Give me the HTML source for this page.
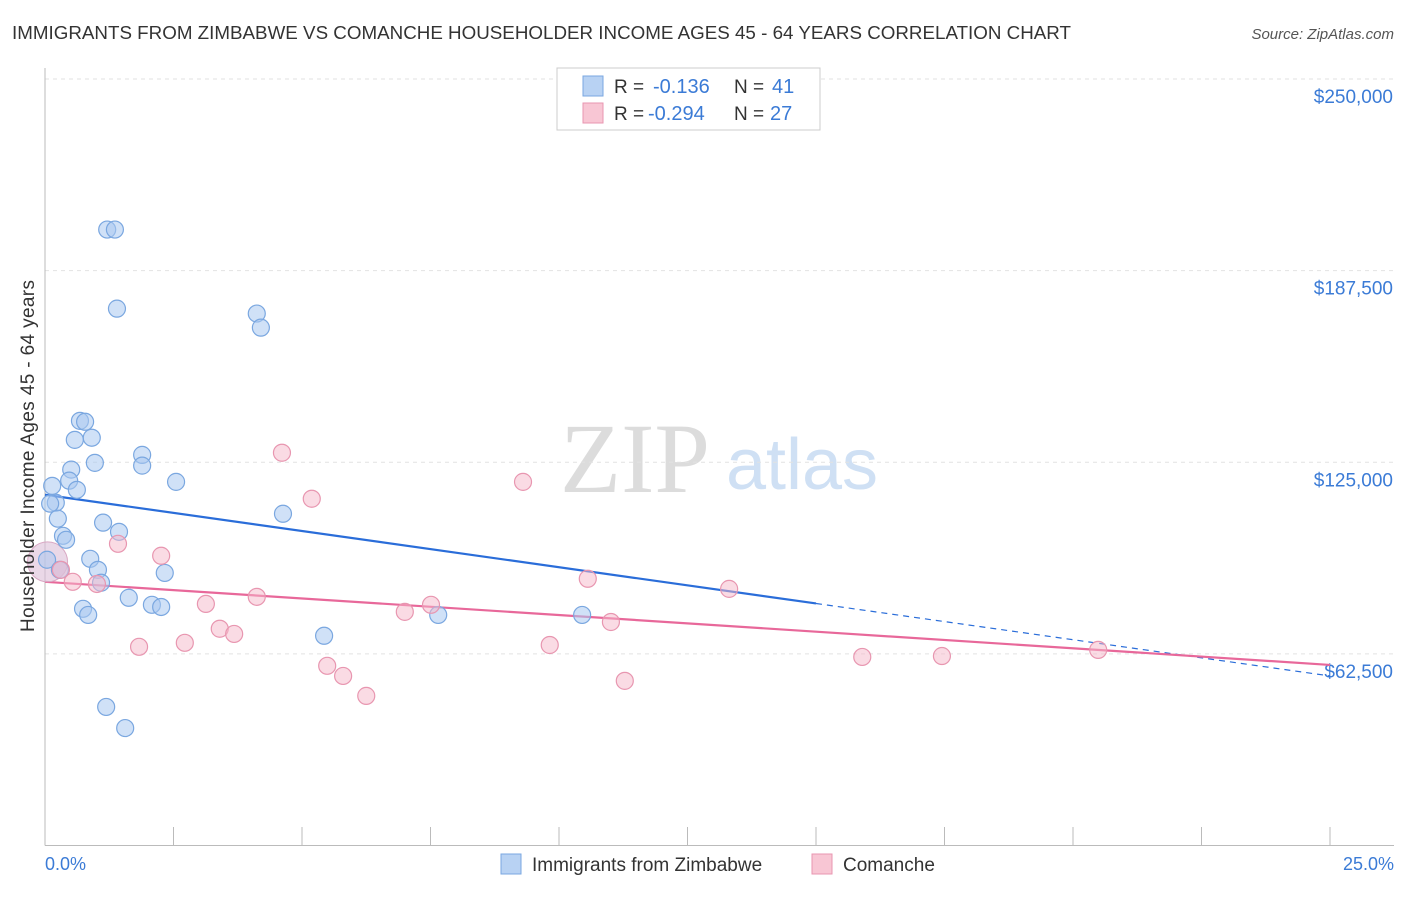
<!DOCTYPE html>
<html><head><meta charset="utf-8">
<style>
body{margin:0;background:#fff;font-family:"Liberation Sans",sans-serif;}
</style></head>
<body>
<svg id="chart" width="1406" height="892" font-family="Liberation Sans, sans-serif">
<text x="12" y="39" font-size="18" fill="#333" textLength="1059" lengthAdjust="spacingAndGlyphs">IMMIGRANTS FROM ZIMBABWE VS COMANCHE HOUSEHOLDER INCOME AGES 45 - 64 YEARS CORRELATION CHART</text>
<text x="1394" y="39" font-size="15" fill="#555" text-anchor="end" font-style="italic">Source: ZipAtlas.com</text>
<g>
<text x="635" y="492" font-size="100" fill="#dcdcdc" style="font-family:'Liberation Serif',serif" text-anchor="middle">ZIP</text>
<text x="802" y="489" font-size="72" fill="#cfe0f4" text-anchor="middle">atlas</text>
</g>
<g id="grid"></g>
<g id="axes"></g>
<g id="lines"></g>
<g id="points"></g>
<text transform="translate(34,456) rotate(-90)" font-size="19" fill="#333" text-anchor="middle" textLength="352">Householder Income Ages 45 - 64 years</text>
<text x="45" y="870" font-size="18" fill="#3b7bd6">0.0%</text>
<text x="1394" y="870" font-size="18" fill="#3b7bd6" text-anchor="end">25.0%</text>
<g>
<rect x="557" y="68" width="263" height="62" fill="#fff" stroke="#ccc"/>
<rect x="583" y="76" width="20" height="20" fill="#b8d2f3" stroke="#7aa7e0"/>
<text x="614" y="93" font-size="19" fill="#333">R =</text>
<text x="653" y="93" font-size="20" fill="#3b7bd6">-0.136</text>
<text x="734" y="93" font-size="19" fill="#333">N =</text>
<text x="772" y="93" font-size="20" fill="#3b7bd6">41</text>
<rect x="583" y="103" width="20" height="20" fill="#f8c6d4" stroke="#e896b0"/>
<text x="614" y="120" font-size="19" fill="#333">R =</text>
<text x="648" y="120" font-size="20" fill="#3b7bd6">-0.294</text>
<text x="734" y="120" font-size="19" fill="#333">N =</text>
<text x="770" y="120" font-size="20" fill="#3b7bd6">27</text>
</g>
<g>
<rect x="501" y="854" width="20" height="20" fill="#b8d2f3" stroke="#7aa7e0"/>
<text x="532" y="871" font-size="19" fill="#333">Immigrants from Zimbabwe</text>
<rect x="812" y="854" width="20" height="20" fill="#f8c6d4" stroke="#e896b0"/>
<text x="843" y="871" font-size="19" fill="#333">Comanche</text>
</g>
</svg>
<script>
const yTicks=[62500,125000,187500,250000];
const yTickLabels=["$62,500","$125,000","$187,500","$250,000"];
const xTicks=[0,2.5,5,7.5,10,12.5,15,17.5,20,22.5,25];
const blueX=[1.21,1.36,1.40,4.12,4.20,0.68,0.78,0.58,0.91,0.97,1.89,1.89,0.51,0.47,0.62,2.55,0.14,0.21,0.10,0.25,1.13,4.63,1.44,0.35,0.41,0.04,0.88,1.03,2.33,0.29,1.09,1.63,2.08,2.26,0.74,0.84,7.65,10.45,5.43,1.19,1.56];
const blueY=[200900,200900,175100,173500,168900,138500,138200,132300,133000,124800,127400,123900,122600,119000,116000,118600,117300,111800,111500,106600,105300,108200,102300,101000,99700,93200,93500,89900,88900,89900,85700,80800,78500,77800,77200,75200,75200,75200,68400,45200,38300];
const pinkX=[4.61,5.19,9.30,1.42,2.26,0.31,0.54,1.01,10.56,13.31,4.12,3.13,7.00,7.51,11.01,3.40,3.68,2.72,1.83,9.82,5.49,5.80,6.25,11.28,15.90,17.45,20.49];
const pinkY=[128100,113100,118600,98400,94500,89900,86000,85300,87000,83700,81100,78800,76200,78500,72900,70700,69000,66100,64800,65400,58600,55300,48800,53700,61500,61800,63800];
const bigX=[0.05];
const bigY=[92500];
const blueTrend=[114400,55300];
const pinkTrend=[86000,58900];
const blueSolidEnd=15;

const NS="http://www.w3.org/2000/svg";
const X0=45,X1=1330,YB=845.5,Y250=79;
function sx(v){return X0+(v/25)*(X1-X0);}
function sy(v){return YB-(v/250000)*(YB-Y250);}
function mk(tag,attrs,parent){const e=document.createElementNS(NS,tag);for(const k in attrs)e.setAttribute(k,attrs[k]);parent.appendChild(e);return e;}
const grid=document.getElementById('grid'),axes=document.getElementById('axes'),lines=document.getElementById('lines'),pts=document.getElementById('points');
yTicks.forEach((t,i)=>{
  const l=mk('line',{x1:X0,x2:1394,y1:sy(t),y2:sy(t),stroke:'#e2e2e2','stroke-dasharray':'4,4'},grid);
  
  
  const tx=mk('text',{x:1393,y:sy(t)+24,'font-size':19,fill:'#3b7bd6','text-anchor':'end'},axes);
  tx.textContent=yTickLabels[i];
  
  
});
const ax=mk('line',{x1:X0,x2:X0,y1:68,y2:YB,stroke:'#bbb'},axes);


const bx=mk('line',{x1:X0,x2:1394,y1:YB,y2:YB,stroke:'#bbb'},axes);


xTicks.forEach(t=>{
  const l=mk('line',{x1:sx(t),x2:sx(t),y1:827,y2:YB,stroke:'#bbb'},axes);
  
  
});
function trendY(tr,x){return tr[0]+(tr[1]-tr[0])*x/25;}
let l1=mk('line',{x1:sx(0),y1:sy(trendY(blueTrend,0)),x2:sx(blueSolidEnd),y2:sy(trendY(blueTrend,blueSolidEnd)),stroke:'#2a6dd9','stroke-width':2.2},lines);


let l2=mk('line',{x1:sx(blueSolidEnd),y1:sy(trendY(blueTrend,blueSolidEnd)),x2:sx(25),y2:sy(trendY(blueTrend,25)),stroke:'#2a6dd9','stroke-width':1.2,'stroke-dasharray':'6,5'},lines);


let l3=mk('line',{x1:sx(0),y1:sy(trendY(pinkTrend,0)),x2:sx(25),y2:sy(trendY(pinkTrend,25)),stroke:'#e8689a','stroke-width':2.2},lines);


bigX.forEach((x,i)=>{
  const c=mk('circle',{cx:sx(x),cy:sy(bigY[i]),r:20,fill:'rgba(220,190,215,0.6)',stroke:'#d9a8c4','stroke-width':1},pts);
  
  
});
blueX.forEach((x,i)=>{
  const c=mk('circle',{cx:sx(x),cy:sy(blueY[i]),r:8.5,fill:'rgba(169,200,240,0.55)',stroke:'#7aa7e0','stroke-width':1.2},pts);
  
  
});
pinkX.forEach((x,i)=>{
  const c=mk('circle',{cx:sx(x),cy:sy(pinkY[i]),r:8.5,fill:'rgba(245,184,201,0.5)',stroke:'#e896b0','stroke-width':1.2},pts);
  
  
});
</script>
</body></html>
